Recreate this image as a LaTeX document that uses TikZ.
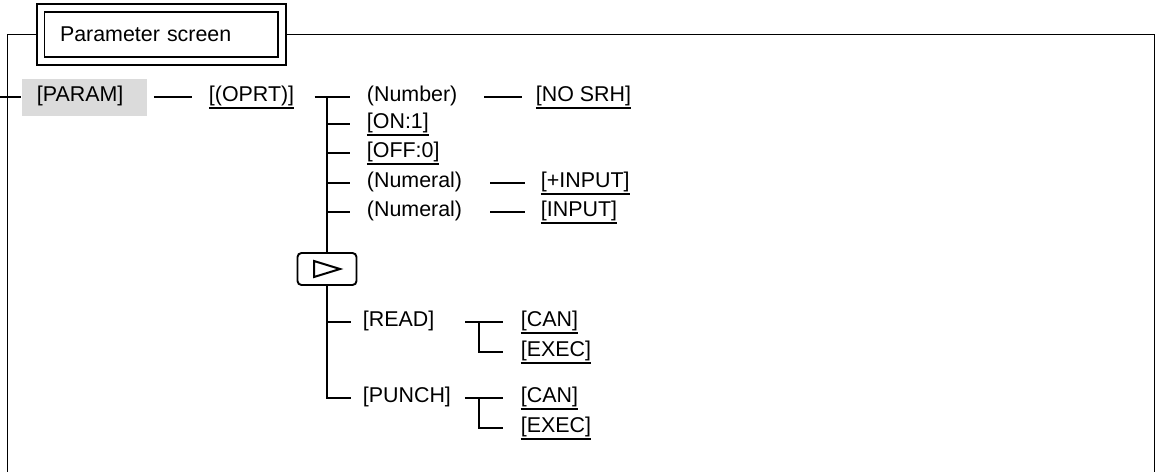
\documentclass[tikz,border=0pt]{standalone}
\usepackage{fontspec}
\setmainfont{Liberation Sans}
\usetikzlibrary{backgrounds}
\newcommand{\softkey}[1]{\setbox0=\hbox{#1}\rlap{\rule[-4pt]{\wd0}{0.8pt}}\box0}

\begin{document}
\begin{tikzpicture}[
  x=0.5pt, y=-0.5pt,
  font=\fontsize{10.7}{12}\selectfont,
  line width=0.95pt,
  item/.style={anchor=west, inner sep=0pt, text height=8pt, text depth=4pt},
  screenbox/.style={draw, double, double distance=3pt, fill=white, align=left,
                    inner xsep=9.75pt, inner ysep=0pt, text width=101.25pt,
                    minimum height=26.5pt},
  keybox/.style={item, fill=black!14, align=left, inner xsep=7.5pt,
                 text width=47.5pt, minimum height=18.5pt},
  nextbox/.style={draw, rounded corners=2pt, inner sep=0pt,
                  minimum width=29.5pt, minimum height=16pt,
                  path picture={\draw[line width=1pt, sharp corners, line join=miter]
                    ([xshift=-6.5pt,yshift=4pt]path picture bounding box.center)
                    -- ++(13pt,-4pt) -- ++(-13pt,-4pt) -- cycle;}}
]
\useasboundingbox (0,0) rectangle (1156,472);

\node[screenbox] (title) at (161.25,34.5) {Parameter screen};
\node[keybox] (param) at (21,97) {[PARAM]};
\node[item] (oprt) at (208,97) {\softkey{[(OPRT)]}};

\node[item] (number) at (366,97) {(Number)};
\node[item] (nosrh) at (535,97) {\softkey{[NO SRH]}};
\node[item] (on) at (366,124) {\softkey{[ON:1]}};
\node[item] (off) at (366,153) {\softkey{[OFF:0]}};
\node[item] (numa) at (366,183) {(Numeral)};
\node[item] (plusinput) at (540,183) {\softkey{[+INPUT]}};
\node[item] (numb) at (366,212) {(Numeral)};
\node[item] (input) at (540,212) {\softkey{[INPUT]}};

\node[nextbox] (more) at (327,269) {};

\node[item] (read) at (362,322) {[READ]};
\node[item] (cana) at (520,322) {\softkey{[CAN]}};
\node[item] (execa) at (520,352) {\softkey{[EXEC]}};
\node[item] (punch) at (362,398) {[PUNCH]};
\node[item] (canb) at (520,398) {\softkey{[CAN]}};
\node[item] (execb) at (520,428) {\softkey{[EXEC]}};

\coordinate (entry) at (0,97);
\coordinate (trunk) at (327,97);
\coordinate (framel) at (7,472);
\coordinate (framer) at (1154,472);

\begin{scope}[on background layer]
\draw (title.west) -| (framel);
\draw (title.east) -| (framer);
\end{scope}

\draw (entry) -- (param);
\draw[shorten <=3pt, shorten >=8pt] (param) -- (oprt);
\draw[shorten <=9.7pt, shorten >=8pt] (oprt) -- (number);
\draw (trunk) -- (more);
\foreach \k in {on,off,numa,numb}
  \draw[shorten >=8pt] (trunk |- \k) -- (\k);
\draw[shorten <=13pt, shorten >=6.5pt] (number) -- (nosrh);
\draw[shorten <=13.5pt, shorten >=7.5pt] (numa) -- (plusinput);
\draw[shorten <=13.5pt, shorten >=7.5pt] (numb) -- (input);

\draw[shorten >=5.5pt] (more |- read) -- (read);
\draw[shorten >=5.5pt] (more) |- (punch);
\draw[shorten <=15pt, shorten >=8.5pt] (read) -- (cana);
\draw ([xshift=-20.5pt]cana.west) |- ([xshift=-8.5pt]execa.west);
\draw[shorten <=6.5pt, shorten >=8.5pt] (punch) -- (canb);
\draw ([xshift=-20.5pt]canb.west) |- ([xshift=-8.5pt]execb.west);
\end{tikzpicture}
\end{document}
